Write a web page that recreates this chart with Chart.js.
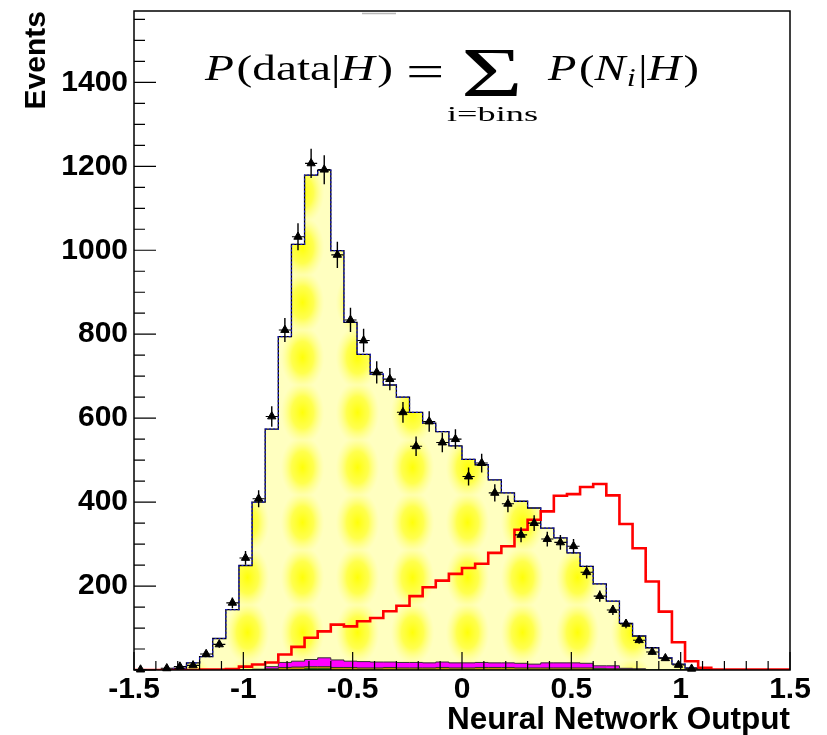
<!DOCTYPE html>
<html>
<head>
<meta charset="utf-8">
<script src="https://cdn.jsdelivr.net/npm/chart.js@4.4.1/dist/chart.umd.min.js"></script>
<style>
  html, body { margin: 0; padding: 0; background: #fff; }
  #wrap { width: 827px; height: 735px; }
</style>
</head>
<body>
<div id="wrap"><canvas id="c" width="827" height="735"></canvas></div>
<script>
// Binning of the neural-network output histogram
const binLow = -1.5;
const binWidth = 0.06;
const nBins = 50;

// Top of each background layer in the stack (events per bin)
const stackTopYellow = [0, 0, 1, 4, 17, 32, 75, 144, 249, 400,
  574, 794, 1014, 1179, 1191, 999, 828, 752, 705, 679,
  650, 614, 588, 568, 534, 502, 489, 453, 422, 402,
  386, 338, 315, 279, 247, 205, 164, 111, 81, 53,
  29, 14, 5, 1, 0, 0, 0, 0, 0, 0];
const stackTopMagenta = [0, 0, 0, 0, 0, 0, 0, 0, 0, 2,
  8, 18, 21, 25, 29, 24, 21, 20, 19, 19,
  18, 18, 17, 19, 17, 17, 18, 17, 17, 16,
  14, 17, 17, 17, 16, 10, 10, 4, 3, 1,
  0, 0, 0, 0, 0, 0, 0, 0, 0, 0];
const stackTopOrange = [0, 0, 0, 0, 0, 0, 0, 0, 0, 1,
  3, 6, 7, 8, 8, 6, 6, 5, 5, 6,
  5, 5, 5, 6, 5, 5, 6, 6, 6, 5,
  5, 5, 5, 5, 5, 4, 3, 2, 1, 0,
  0, 0, 0, 0, 0, 0, 0, 0, 0, 0];
const stackTopGreen = [0, 0, 0, 0, 0, 0, 0, 0, 0, 0,
  0, 0, 1, 3, 3, 0, 0, 0, 0, 0,
  0, 0, 0, 0, 0, 0, 0, 0, 0, 0,
  0, 0, 0, 0, 0, 2, 0, 0, 0, 0,
  0, 0, 0, 0, 0, 0, 0, 0, 0, 0];

// Signal template (red outline)
const signal = [0, 0, 0, 0, 0, 1, 1, 2, 8, 13,
  18, 37, 55, 77, 92, 108, 104, 116, 124, 140,
  153, 176, 197, 213, 229, 243, 253, 279, 295, 334,
  358, 378, 415, 419, 436, 443, 416, 348, 290, 211,
  139, 66, 21, 5, 1, 1, 1, 1, 1, 1];

// Observed events per bin (null = empty bin)
const observed = [1, null, 4, 8, 11, 38, 61, 160, 267, 408,
  604, 810, 1032, 1207, 1192, 989, 834, 785, 709, 693,
  614, 533, 592, 542, 550, 461, 493, 422, 396, 322,
  350, 312, 304, 295, 233, 176, 143, 110, 71, 43,
  28, 12, 3, null, null, null, null, null, null, null];

// Axis ticks
const xTickLabels = [-1.5, -1, -0.5, 0, 0.5, 1, 1.5];
const yTickLabels = [200, 400, 600, 800, 1000, 1200, 1400];
const xMinorStep = 0.1;
const yMinorStep = 50;
const yMajorStep = 200;

const edges = [];
for (let k = 0; k <= nBins; k++) edges.push(+(binLow + k * binWidth).toFixed(4));

function stepPoints(vals) {
  const pts = vals.map((v, k) => ({ x: edges[k], y: v }));
  pts.push({ x: edges[nBins], y: vals[nBins - 1] });
  return pts;
}

const canvas = document.getElementById('c');
const c2d = canvas.getContext('2d');

// Dithered yellow fill: saturated lenses on a paler lattice
function makeYellowFill() {
  const s = 55;
  const t = document.createElement('canvas');
  t.width = s; t.height = s;
  const g = t.getContext('2d');
  g.fillStyle = '#ffffc0';
  g.fillRect(0, 0, s, s);
  g.save();
  g.translate(s / 2, s / 2);
  g.scale(0.68, 1);
  const rg = g.createRadialGradient(0, 0, 0, 0, 0, 32);
  rg.addColorStop(0, 'rgba(255,255,0,0.95)');
  rg.addColorStop(0.5, 'rgba(255,255,40,0.75)');
  rg.addColorStop(1, 'rgba(255,255,120,0)');
  g.fillStyle = rg;
  g.beginPath(); g.arc(0, 0, 32, 0, Math.PI * 2); g.fill();
  g.restore();
  return c2d.createPattern(t, 'repeat');
}

const tickFont = { family: '"Liberation Sans", Arial, Helvetica, sans-serif', size: 30, weight: 'bold' };

function drawPieces(ctx, pieces, x0, x1, baseline) {
  let w = 0;
  pieces.forEach(p => { ctx.font = p.font; p.w = ctx.measureText(p.t).width; w += p.w + (p.gap || 0); });
  const sx = (x1 - x0) / w;
  ctx.save();
  ctx.translate(x0, baseline);
  ctx.scale(sx, 1);
  let cx = 0;
  pieces.forEach(p => { ctx.font = p.font; ctx.fillText(p.t, cx, p.dy || 0); cx += p.w + (p.gap || 0); });
  ctx.restore();
}

function drawInBox(ctx, text, font, x0, x1, y0, y1) {
  ctx.save();
  ctx.font = font;
  const m = ctx.measureText(text);
  const w = m.actualBoundingBoxLeft + m.actualBoundingBoxRight;
  const h = m.actualBoundingBoxAscent + m.actualBoundingBoxDescent;
  const sx = (x1 - x0) / w, sy = (y1 - y0) / h;
  ctx.translate(x0 + m.actualBoundingBoxLeft * sx, y0 + m.actualBoundingBoxAscent * sy);
  ctx.scale(sx, sy);
  ctx.fillText(text, 0, 0);
  ctx.restore();
}

const decor = {
  id: 'decor',
  afterDatasetsDraw(chart) {
    const { ctx, chartArea: a, scales: { x, y } } = chart;

    // error bars of the observed points
    ctx.save();
    ctx.beginPath();
    ctx.rect(a.left, a.top, a.right - a.left, a.bottom - a.top + 6);
    ctx.clip();
    ctx.strokeStyle = '#000';
    ctx.lineWidth = 1.4;
    ctx.beginPath();
    observed.forEach((n, k) => {
      if (n == null) return;
      const px = x.getPixelForValue(edges[k] + binWidth / 2);
      const e = Math.sqrt(n);
      ctx.moveTo(px, y.getPixelForValue(n + e));
      ctx.lineTo(px, y.getPixelForValue(Math.max(n - e, 0)));
    });
    ctx.stroke();
    ctx.lineWidth = 1.1;
    ctx.beginPath();
    observed.forEach((n, k) => {
      if (n == null) return;
      const py = y.getPixelForValue(n);
      ctx.moveTo(x.getPixelForValue(edges[k]) + 0.5, py);
      ctx.lineTo(x.getPixelForValue(edges[k + 1]) - 0.5, py);
    });
    ctx.stroke();
    ctx.restore();

    // frame and inward ticks
    ctx.save();
    ctx.strokeStyle = '#000';
    ctx.lineWidth = 1.5;
    ctx.strokeRect(a.left, a.top, a.right - a.left, a.bottom - a.top);
    ctx.lineWidth = 1.2;
    ctx.beginPath();
    for (let v = 0; v <= y.max; v += yMinorStep) {
      const py = y.getPixelForValue(v);
      const len = (v % yMajorStep === 0) ? 22 : 11;
      ctx.moveTo(a.left, py); ctx.lineTo(a.left + len, py);
    }
    const nx = Math.round((x.max - x.min) / xMinorStep);
    for (let i = 0; i <= nx; i++) {
      const v = x.min + i * xMinorStep;
      const px = x.getPixelForValue(v);
      const len = (i % 5 === 0) ? 18 : 9;
      ctx.moveTo(px, a.bottom); ctx.lineTo(px, a.bottom - len);
    }
    ctx.stroke();
    // faint rule above the frame
    ctx.strokeStyle = '#b8b8b8';
    ctx.lineWidth = 1.5;
    ctx.beginPath(); ctx.moveTo(362, 13.5); ctx.lineTo(396, 13.5); ctx.stroke();
    ctx.restore();

    // likelihood formula
    ctx.save();
    ctx.fillStyle = '#000';
    ctx.textBaseline = 'alphabetic';
    const rm = '36px "Liberation Serif", "Times New Roman", serif';
    const it = 'italic 36px "Liberation Serif", "Times New Roman", serif';
    const itSmall = 'italic 25px "Liberation Serif", "Times New Roman", serif';
    drawPieces(ctx, [
      { t: 'P', font: it, gap: 2 }, { t: '(', font: rm }, { t: 'data', font: rm },
      { t: '|', font: rm }, { t: 'H', font: it, gap: 2 }, { t: ')', font: rm }
    ], 205, 393, 80);
    drawInBox(ctx, '=', rm, 408, 442, 65, 76);
    drawInBox(ctx, '\u03A3', rm, 464, 520, 50, 96);
    drawPieces(ctx, [{ t: 'i=bins', font: '22px "Liberation Serif", "Times New Roman", serif' }], 447, 538, 121);
    drawPieces(ctx, [
      { t: 'P', font: it, gap: 2 }, { t: '(', font: rm }, { t: 'N', font: it, gap: 1 },
      { t: 'i', font: itSmall, dy: 6, gap: 2 }, { t: '|', font: rm }, { t: 'H', font: it, gap: 2 },
      { t: ')', font: rm }
    ], 548, 699, 80);
    ctx.restore();
  }
};

new Chart(canvas, {
  type: 'line',
  data: {
    datasets: [
      {
        label: 'background',
        data: stepPoints(stackTopYellow),
        stepped: 'before',
        fill: 'origin',
        backgroundColor: makeYellowFill(),
        borderColor: '#000',
        borderWidth: 1.3,
        pointRadius: 0,
        order: 10
      },
      {
        label: 'total',
        data: stepPoints(stackTopYellow),
        stepped: 'before',
        fill: false,
        borderColor: '#1a1ad0',
        borderWidth: 1.2,
        borderDash: [2, 2],
        pointRadius: 0,
        order: 9
      },
      {
        label: 'magenta',
        data: stepPoints(stackTopMagenta),
        stepped: 'before',
        fill: 'origin',
        backgroundColor: '#ff00ff',
        borderColor: '#333',
        borderWidth: 1,
        pointRadius: 0,
        order: 8
      },
      {
        label: 'orange',
        data: stepPoints(stackTopOrange),
        stepped: 'before',
        fill: 'origin',
        backgroundColor: '#c09000',
        borderColor: '#333',
        borderWidth: 1,
        pointRadius: 0,
        order: 7
      },
      {
        label: 'green',
        data: stepPoints(stackTopGreen),
        stepped: 'before',
        fill: 'origin',
        backgroundColor: '#00a000',
        borderColor: '#1c5a1c',
        borderWidth: 1,
        pointRadius: 0,
        order: 6
      },
      {
        label: 'signal',
        data: stepPoints(signal),
        stepped: 'before',
        fill: false,
        borderColor: '#ff0000',
        borderWidth: 2.6,
        pointRadius: 0,
        order: 5
      },
      {
        label: 'data',
        data: observed.map((n, k) => n == null ? null : ({ x: edges[k] + binWidth / 2, y: n })).filter(p => p),
        showLine: false,
        pointStyle: 'triangle',
        pointRadius: 4.8,
        pointBackgroundColor: '#000',
        pointBorderColor: '#000',
        pointBorderWidth: 1,
        clip: false,
        order: 1
      }
    ]
  },
  options: {
    responsive: false,
    animation: false,
    devicePixelRatio: 1,
    layout: { padding: { left: 0, right: 37, top: 11, bottom: 0 } },
    plugins: { legend: { display: false }, tooltip: { enabled: false } },
    scales: {
      x: {
        type: 'linear',
        min: -1.5,
        max: 1.5,
        grid: { display: false, drawTicks: false },
        border: { display: false },
        afterBuildTicks: s => { s.ticks = xTickLabels.map(v => ({ value: v })); },
        ticks: {
          autoSkip: false, maxRotation: 0, padding: 2,
          color: '#000', font: tickFont,
          callback: v => String(v)
        },
        title: {
          display: true, text: 'Neural Network Output', align: 'end', color: '#000',
          font: { family: tickFont.family, size: 31.5, weight: 'bold', lineHeight: 1 },
          padding: { top: 0, bottom: -1 }
        },
        afterFit: s => { s.height = 65; s.paddingLeft = 0; s.paddingRight = 0; }
      },
      y: {
        min: 0,
        max: 1570,
        grid: { display: false, drawTicks: false },
        border: { display: false },
        afterBuildTicks: s => { s.ticks = yTickLabels.map(v => ({ value: v })); },
        ticks: {
          padding: 6, color: '#000', font: tickFont,
          callback: v => String(v)
        },
        title: {
          display: true, text: 'Events', align: 'end', color: '#000',
          font: { family: tickFont.family, size: 30, weight: 'bold', lineHeight: 1 },
          padding: { top: 22, bottom: 0 }
        },
        afterFit: s => { s.width = 134; s.paddingTop = 0; s.paddingBottom = 0; }
      }
    }
  },
  plugins: [decor]
});
</script>
</body>
</html>
